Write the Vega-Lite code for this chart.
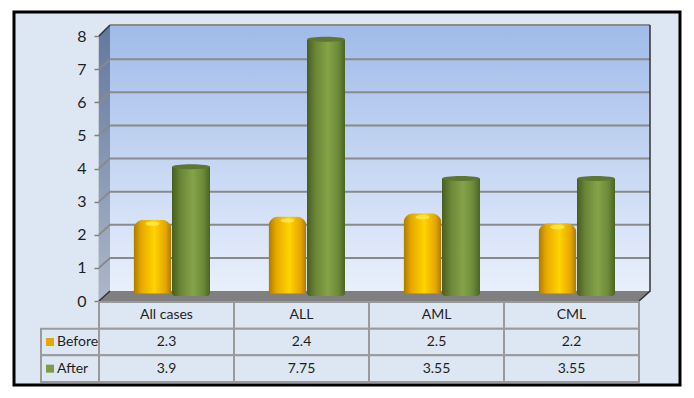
{
"$schema":"https://vega.github.io/schema/vega-lite/v6.json",
"width":666,"height":373,
"autosize":{"type":"none"},
"padding":{"left":14,"top":12,"right":14,"bottom":13},
"background":"white",
"view":{"fill":"#dde7f3","stroke":"#000000","strokeWidth":3},
"datasets":{
"bars":[
{"category":"All cases","series":"Before","value":2.3},
{"category":"ALL","series":"Before","value":2.4},
{"category":"AML","series":"Before","value":2.5},
{"category":"CML","series":"Before","value":2.2},
{"category":"All cases","series":"After","value":3.9},
{"category":"ALL","series":"After","value":7.75},
{"category":"AML","series":"After","value":3.55},
{"category":"CML","series":"After","value":3.55}],
"grid":[
{"tick":1,"pos":0,"level":1},{"tick":1,"pos":0.0815,"level":1.3},{"tick":1,"pos":4.0815,"level":1.3},
{"tick":2,"pos":0,"level":2},{"tick":2,"pos":0.0815,"level":2.3},{"tick":2,"pos":4.0815,"level":2.3},
{"tick":3,"pos":0,"level":3},{"tick":3,"pos":0.0815,"level":3.3},{"tick":3,"pos":4.0815,"level":3.3},
{"tick":4,"pos":0,"level":4},{"tick":4,"pos":0.0815,"level":4.3},{"tick":4,"pos":4.0815,"level":4.3},
{"tick":5,"pos":0,"level":5},{"tick":5,"pos":0.0815,"level":5.3},{"tick":5,"pos":4.0815,"level":5.3},
{"tick":6,"pos":0,"level":6},{"tick":6,"pos":0.0815,"level":6.3},{"tick":6,"pos":4.0815,"level":6.3},
{"tick":7,"pos":0,"level":7},{"tick":7,"pos":0.0815,"level":7.3},{"tick":7,"pos":4.0815,"level":7.3},
{"tick":8,"pos":0.0815,"level":8.33},{"tick":8,"pos":4.0815,"level":8.33}],
"edges":[
{"edge":"right","pos":4.0815,"level":8.33},{"edge":"right","pos":4.0815,"level":0.3},{"edge":"right","pos":4,"level":0},
{"edge":"left","pos":0,"level":0},{"edge":"left","pos":0.0815,"level":0.3},
{"edge":"top","pos":0,"level":8},{"edge":"top","pos":0.0815,"level":8.33}],
"cells":[
{"category":"All cases","row":"Category","label":"All cases"},
{"category":"ALL","row":"Category","label":"ALL"},
{"category":"AML","row":"Category","label":"AML"},
{"category":"CML","row":"Category","label":"CML"},
{"category":"All cases","row":"Before","label":"2.3"},
{"category":"ALL","row":"Before","label":"2.4"},
{"category":"AML","row":"Before","label":"2.5"},
{"category":"CML","row":"Before","label":"2.2"},
{"category":"All cases","row":"After","label":"3.9"},
{"category":"ALL","row":"After","label":"7.75"},
{"category":"AML","row":"After","label":"3.55"},
{"category":"CML","row":"After","label":"3.55"}],
"legend":[{"column":"Series","row":"Before"},{"column":"Series","row":"After"}]
},
"resolve":{"scale":{"x":"independent","y":"independent","xOffset":"independent","color":"independent"},"axis":{"y":"independent","x":"independent"}},
"layer":[
{"data":{"values":[{"start":0.0815,"end":4.0815,"low":0.3,"high":8.33}]},
 "mark":{"type":"rect","color":{"gradient":"linear","x1":0,"y1":0,"x2":0,"y2":1,"stops":[{"offset":0,"color":"#a0bbe9"},{"offset":1,"color":"#e9f0fc"}]}},
 "encoding":{
  "x":{"field":"start","type":"quantitative","axis":null,"scale":{"domain":[0,4],"range":[85,625]}},"x2":{"field":"end"},
  "y":{"field":"low","type":"quantitative","axis":null,"scale":{"domain":[0,8],"range":[289,24]}},"y2":{"field":"high"}}},
{"data":{"values":[{"pos":0,"low":0,"high":8},{"pos":0.0815,"low":0.3,"high":8.33}]},
 "mark":{"type":"area","orient":"vertical","color":{"gradient":"linear","x1":0,"y1":0,"x2":0,"y2":1,"stops":[{"offset":0,"color":"#63789e"},{"offset":1,"color":"#adb7c8"}]}},
 "encoding":{
  "x":{"field":"pos","type":"quantitative","axis":null,"scale":{"domain":[0,4],"range":[85,625]}},
  "y":{"field":"low","type":"quantitative","axis":null,"scale":{"domain":[0,8],"range":[289,24]}},"y2":{"field":"high"}}},
{"data":{"values":[{"level":0,"start":0,"end":4},{"level":0.3,"start":0.0815,"end":4.0815}]},
 "mark":{"type":"area","orient":"horizontal","color":"#7f7f7f"},
 "encoding":{
  "y":{"field":"level","type":"quantitative","axis":null,"scale":{"domain":[0,8],"range":[289,24]}},
  "x":{"field":"start","type":"quantitative","axis":null,"scale":{"domain":[0,4],"range":[85,625]}},"x2":{"field":"end"}}},
{"data":{"name":"grid"},
 "mark":{"type":"line","color":"#8a8a8a","strokeWidth":2},
 "encoding":{
  "detail":{"field":"tick"},
  "order":{"field":"pos"},
  "x":{"field":"pos","type":"quantitative","axis":null,"scale":{"domain":[0,4],"range":[85,625]}},
  "y":{"field":"level","type":"quantitative","scale":{"domain":[0,8],"range":[289,24]},
   "axis":{"title":null,"values":[0,1,2,3,4,5,6,7,8],"offset":-85,"grid":false,"domain":true,"domainColor":"#808080","domainWidth":1.5,"tickColor":"#808080","tickSize":5,"tickWidth":1.5,"labelFont":"Lato","labelFontSize":16,"labelColor":"#1f1f1f","labelPadding":8}}}},
{"data":{"name":"edges"},
 "mark":{"type":"line","color":"#333333","strokeWidth":1.5},
 "encoding":{
  "detail":{"field":"edge"},
  "order":{"field":"level"},
  "x":{"field":"pos","type":"quantitative","axis":null,"scale":{"domain":[0,4],"range":[85,625]}},
  "y":{"field":"level","type":"quantitative","axis":null,"scale":{"domain":[0,8],"range":[289,24]}}}},
{"data":{"name":"bars"},"transform":[{"filter":"datum.series==='Before'"}],
 "mark":{"type":"bar","width":38,"y2Offset":2.5,"cornerRadiusTopLeft":10,"cornerRadiusTopRight":10,"cornerRadiusBottomLeft":3,"cornerRadiusBottomRight":3,"yOffset":-2.5,
  "color":{"gradient":"linear","x1":0,"y1":0,"x2":1,"y2":0,"stops":[{"offset":0,"color":"#a97900"},{"offset":0.2,"color":"#e6a800"},{"offset":0.55,"color":"#ffd400"},{"offset":0.85,"color":"#e5a500"},{"offset":1,"color":"#a87800"}]}},
 "encoding":{
  "x":{"field":"category","type":"nominal","sort":null,"axis":null,"scale":{"type":"band","domain":["All cases","ALL","AML","CML"],"range":[85,625],"paddingInner":0,"paddingOuter":0}},
  "xOffset":{"field":"series","type":"nominal","scale":{"type":"point","domain":["Before","After"],"range":[53.5,92],"padding":0}},
  "y":{"field":"value","type":"quantitative","axis":null,"scale":{"domain":[0,8],"range":[284,19]}}}},
{"data":{"name":"bars"},"transform":[{"filter":"datum.series==='Before'"}],
 "mark":{"type":"point","filled":true,"opacity":0.75,"fill":"#ffec55","stroke":null,"size":196,"yOffset":4,"shape":"M -1 0 A 1 0.3 0 0 1 1 0 A 1 0.3 0 0 1 -1 0 Z"},
 "encoding":{
  "x":{"field":"category","type":"nominal","sort":null,"axis":null,"scale":{"type":"band","domain":["All cases","ALL","AML","CML"],"range":[85,625],"paddingInner":0,"paddingOuter":0}},
  "xOffset":{"field":"series","type":"nominal","scale":{"type":"point","domain":["Before","After"],"range":[53.5,92],"padding":0}},
  "y":{"field":"value","type":"quantitative","axis":null,"scale":{"domain":[0,8],"range":[284,19]}}}},
{"data":{"name":"bars"},"transform":[{"filter":"datum.series==='After'"}],
 "mark":{"type":"bar","width":38,"y2Offset":2.5,"cornerRadiusBottomLeft":3,"cornerRadiusBottomRight":3,
  "color":{"gradient":"linear","x1":0,"y1":0,"x2":1,"y2":0,"stops":[{"offset":0,"color":"#465e21"},{"offset":0.22,"color":"#6a8536"},{"offset":0.55,"color":"#85a34a"},{"offset":0.82,"color":"#6d8a39"},{"offset":1,"color":"#4a6424"}]}},
 "encoding":{
  "x":{"field":"category","type":"nominal","sort":null,"axis":null,"scale":{"type":"band","domain":["All cases","ALL","AML","CML"],"range":[85,625],"paddingInner":0,"paddingOuter":0}},
  "xOffset":{"field":"series","type":"nominal","scale":{"type":"point","domain":["Before","After"],"range":[53.5,92],"padding":0}},
  "y":{"field":"value","type":"quantitative","axis":null,"scale":{"domain":[0,8],"range":[284,19]}}}},
{"data":{"name":"bars"},"transform":[{"filter":"datum.series==='After'"}],
 "mark":{"type":"point","filled":true,"fill":"#5d7730","stroke":null,"opacity":1,"size":1444,"shape":"M -1 0 A 1 0.13 0 0 1 1 0 A 1 0.13 0 0 1 -1 0 Z"},
 "encoding":{
  "x":{"field":"category","type":"nominal","sort":null,"axis":null,"scale":{"type":"band","domain":["All cases","ALL","AML","CML"],"range":[85,625],"paddingInner":0,"paddingOuter":0}},
  "xOffset":{"field":"series","type":"nominal","scale":{"type":"point","domain":["Before","After"],"range":[53.5,92],"padding":0}},
  "y":{"field":"value","type":"quantitative","axis":null,"scale":{"domain":[0,8],"range":[284,19]}}}},
{"data":{"name":"cells"},
 "mark":{"type":"rect","fill":"#dde7f3","stroke":"#9a9a9a","strokeWidth":2},
 "encoding":{
  "x":{"field":"category","type":"nominal","sort":null,"axis":null,"scale":{"type":"band","domain":["All cases","ALL","AML","CML"],"range":[85,625],"paddingInner":0,"paddingOuter":0}},
  "y":{"field":"row","type":"nominal","sort":null,"axis":null,"scale":{"type":"band","domain":["Category","Before","After"],"range":[290,370],"paddingInner":0,"paddingOuter":0}}}},
{"data":{"name":"legend"},
 "mark":{"type":"rect","fill":"#dde7f3","stroke":"#9a9a9a","strokeWidth":2},
 "encoding":{
  "x":{"field":"column","type":"nominal","axis":null,"scale":{"type":"band","domain":["Series"],"range":[27,85],"paddingInner":0,"paddingOuter":0}},
  "y":{"field":"row","type":"nominal","sort":null,"axis":null,"scale":{"type":"band","domain":["Category","Before","After"],"range":[290,370],"paddingInner":0,"paddingOuter":0}}}},
{"data":{"name":"cells"},
 "mark":{"type":"text","font":"Lato","fontSize":14,"color":"#1f1f1f","baseline":"middle","align":"center"},
 "encoding":{
  "text":{"field":"label"},
  "x":{"field":"category","type":"nominal","sort":null,"axis":null,"scale":{"type":"band","domain":["All cases","ALL","AML","CML"],"range":[85,625],"paddingInner":0,"paddingOuter":0}},
  "y":{"field":"row","type":"nominal","sort":null,"axis":null,"scale":{"type":"band","domain":["Category","Before","After"],"range":[290,370],"paddingInner":0,"paddingOuter":0}}}},
{"data":{"name":"legend"},
 "mark":{"type":"text","font":"Lato","fontSize":14,"color":"#1f1f1f","baseline":"middle","align":"left","dx":-13},
 "encoding":{
  "text":{"field":"row"},
  "x":{"field":"column","type":"nominal","axis":null,"scale":{"type":"band","domain":["Series"],"range":[27,85],"paddingInner":0,"paddingOuter":0}},
  "y":{"field":"row","type":"nominal","sort":null,"axis":null,"scale":{"type":"band","domain":["Category","Before","After"],"range":[290,370],"paddingInner":0,"paddingOuter":0}}}},
{"data":{"name":"legend"},
 "mark":{"type":"point","shape":"square","filled":true,"size":64,"xOffset":-20,"opacity":1},
 "encoding":{
  "color":{"field":"row","type":"nominal","legend":null,"scale":{"domain":["Before","After"],"range":["#e5a800","#7f9b45"]}},
  "x":{"field":"column","type":"nominal","axis":null,"scale":{"type":"band","domain":["Series"],"range":[27,85],"paddingInner":0,"paddingOuter":0}},
  "y":{"field":"row","type":"nominal","sort":null,"axis":null,"scale":{"type":"band","domain":["Category","Before","After"],"range":[290,370],"paddingInner":0,"paddingOuter":0}}}}
]
}
